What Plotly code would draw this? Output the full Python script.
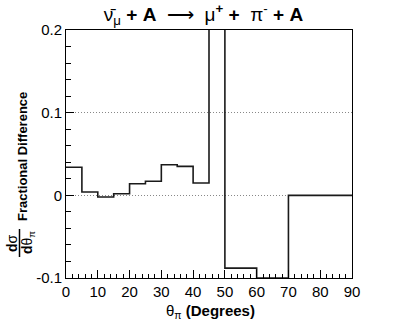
import plotly.graph_objects as go

# Края бинов по углу пиона, градусы
bin_edges = [0, 5, 10, 15, 20, 25, 30, 35, 40, 45, 50, 60, 70, 90]
# Относительная разница в каждом бине
frac_diff = [0.034, 0.004, -0.002, 0.002, 0.014, 0.017, 0.037, 0.035,
             0.015, 0.25, -0.088, -0.1, 0.0]

x_ticks = [0, 10, 20, 30, 40, 50, 60, 70, 80, 90]
y_ticks = [-0.1, 0, 0.1, 0.2]
y_tick_text = ['-0.1', '0', '0.1', '0.2']

FONT = 'Liberation Sans, Arial, sans-serif'
W, H = 407, 328
L, R, T, B = 66, 55, 30, 50
pw, ph = W - L - R, H - T - B


def px_x(p):
    return (p - L) / pw


def px_y(p):
    return (H - B - p) / ph


# ступенчатая гистограмма: последний бин продлеваем до правого края
xs = bin_edges[:-1] + [bin_edges[-1]]
ys = frac_diff + [frac_diff[-1]]

fig = go.Figure()
fig.add_trace(go.Scatter(
    x=xs, y=ys, mode='lines',
    line=dict(color='#1a1a1a', width=1.6, shape='hv'),
    showlegend=False, hoverinfo='skip'
))

fig.update_xaxes(
    range=[0, 90], tickvals=x_ticks, ticks='inside', ticklen=8,
    tickcolor='black', showline=True, linecolor='black', linewidth=1,
    mirror=True, showgrid=False, zeroline=False,
    tickfont=dict(family=FONT, size=15, color='black'),
    minor=dict(ticks='inside', ticklen=4, dtick=2, tickcolor='black', showgrid=False)
)
fig.update_yaxes(
    range=[-0.1, 0.2], tickvals=y_ticks, ticktext=y_tick_text,
    ticks='inside', ticklen=8, tickcolor='black',
    showline=True, linecolor='black', linewidth=1, mirror=True,
    showgrid=True, gridcolor='#888888', griddash='1px,2px', gridwidth=1,
    zeroline=False,
    tickfont=dict(family=FONT, size=15, color='black'),
    minor=dict(ticks='inside', ticklen=5, dtick=0.02, tickcolor='black', showgrid=False)
)

fig.update_layout(
    width=W, height=H,
    margin=dict(l=L, r=R, t=T, b=B),
    paper_bgcolor='white', plot_bgcolor='white',
    title=dict(
        text='ν\u0304<sub>μ</sub> <b>+ A</b>  ⟶  μ<sup><b>+</b></sup> <b>+</b>  π<sup>-</sup> <b>+ A</b>',
        x=0.5, xanchor='center', y=1 - 14 / H, yanchor='middle',
        font=dict(family=FONT, size=19, color='black')
    ),
    font=dict(family=FONT, color='black')
)

# подпись оси X
fig.add_annotation(
    text='θ<sub>π</sub> <b>(Degrees)</b>', xref='paper', yref='paper',
    x=px_x(210), y=px_y(311), xanchor='center', yanchor='middle',
    showarrow=False, font=dict(family=FONT, size=15, color='black')
)
# подпись оси Y: дробь и текст
fig.add_annotation(
    text='<b>Fractional Difference</b>', xref='paper', yref='paper',
    x=px_x(22), y=px_y(157), xanchor='center', yanchor='middle',
    textangle=-90, showarrow=False, font=dict(family=FONT, size=13, color='black')
)
fig.add_annotation(
    text='<b>d</b>σ', xref='paper', yref='paper',
    x=px_x(12), y=px_y(243), xanchor='center', yanchor='middle',
    textangle=-90, showarrow=False, font=dict(family=FONT, size=14, color='black')
)
fig.add_annotation(
    text='<b>d</b>θ<sub>π</sub>', xref='paper', yref='paper',
    x=px_x(28), y=px_y(243), xanchor='center', yanchor='middle',
    textangle=-90, showarrow=False, font=dict(family=FONT, size=14, color='black')
)
fig.add_shape(
    type='line', xref='paper', yref='paper',
    x0=px_x(19.5), x1=px_x(19.5), y0=px_y(229), y1=px_y(257),
    line=dict(color='black', width=1.5)
)

# убираем стандартный отступ body, чтобы рисунок занимал всё окно
fig.write_html('out.html', config={'displayModeBar': False},
               post_script="document.body.style.margin='0';")
